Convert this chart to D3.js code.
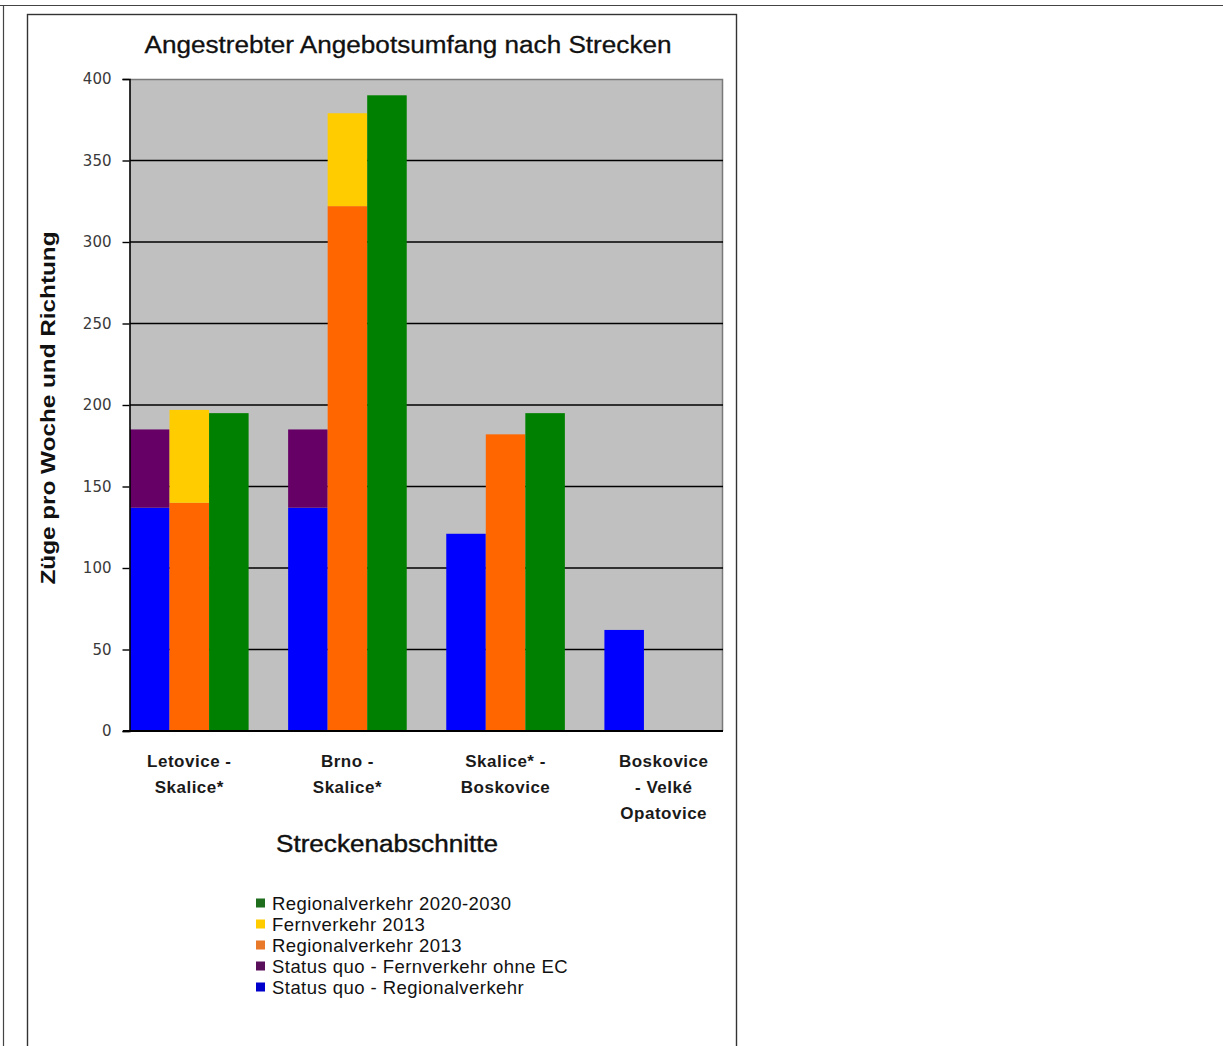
<!DOCTYPE html>
<html>
<head>
<meta charset="utf-8">
<script src="https://cdn.jsdelivr.net/npm/d3@7"></script>
<style>
  html, body { margin: 0; padding: 0; background: #fff; }
  svg { display: block; }
</style>
</head>
<body>
<svg id="chart" width="1223" height="1046"></svg>
<script>
// Route sections (x-axis groups), each drawn as three columns: status quo, 2013, 2020-2030
const sections = ["Letovice - Skalice*", "Brno - Skalice*", "Skalice* - Boskovice", "Boskovice - Velké Opatovice"];
const sectionLabelLines = [
  ["Letovice -", "Skalice*"],
  ["Brno -", "Skalice*"],
  ["Skalice* -", "Boskovice"],
  ["Boskovice", "- Velké", "Opatovice"]
];
const yTicks = [0, 50, 100, 150, 200, 250, 300, 350, 400];

// Trains per week and direction
const statusQuoRegional = [137, 137, 121, 62];
const statusQuoFern = [48, 48, 0, 0];
const regional2013 = [140, 322, 182, 0];
const fern2013 = [57, 57, 0, 0];
const regional2020 = [195, 390, 195, 0];

const seriesKeys = ["sqReg", "sqFern", "reg2013", "fern2013", "reg2020"];
const seriesNames = {
  sqReg: "Status quo - Regionalverkehr",
  sqFern: "Status quo - Fernverkehr ohne EC",
  reg2013: "Regionalverkehr 2013",
  fern2013: "Fernverkehr 2013",
  reg2020: "Regionalverkehr 2020-2030"
};
const seriesColors = {
  sqReg: "#0000ff",
  sqFern: "#660066",
  reg2013: "#ff6600",
  fern2013: "#ffcc00",
  reg2020: "#008000"
};
const legendColors = {
  sqReg: "#0000cc",
  sqFern: "#5a0f5a",
  reg2013: "#e8782a",
  fern2013: "#ffcc00",
  reg2020: "#1e6e1e"
};
const legendOrder = ["reg2020", "fern2013", "reg2013", "sqFern", "sqReg"];

// Slot table: four slots per section (three columns + one gap), last gap dropped
const rows = [];
sections.forEach((s, i) => {
  const base = { sqReg: 0, sqFern: 0, reg2013: 0, fern2013: 0, reg2020: 0 };
  rows.push(Object.assign({}, base, { slot: i * 4, sqReg: statusQuoRegional[i], sqFern: statusQuoFern[i] }));
  rows.push(Object.assign({}, base, { slot: i * 4 + 1, reg2013: regional2013[i], fern2013: fern2013[i] }));
  rows.push(Object.assign({}, base, { slot: i * 4 + 2, reg2020: regional2020[i] }));
  if (i < sections.length - 1) rows.push(Object.assign({}, base, { slot: i * 4 + 3 }));
});

const svg = d3.select("#chart");

// Outer frame lines and the chart box
svg.append("line").attr("x1", 0).attr("x2", 1223).attr("y1", 5.5).attr("y2", 5.5)
  .attr("stroke", "#444").attr("stroke-width", 1.2);
svg.append("line").attr("x1", 3.5).attr("x2", 3.5).attr("y1", 5).attr("y2", 1046)
  .attr("stroke", "#444").attr("stroke-width", 1.2);
svg.append("rect").attr("x", 27.5).attr("y", 14.5).attr("width", 709).attr("height", 1040)
  .attr("fill", "#fff").attr("stroke", "#333").attr("stroke-width", 1.4);

const plot = { left: 130, right: 723, top: 79, bottom: 731 };

const x = d3.scaleBand()
  .domain(d3.range(15))
  .range([plot.left, plot.right])
  .padding(0);

const y = d3.scaleLinear()
  .domain([0, 400])
  .range([plot.bottom, plot.top]);

// Plot background
svg.append("rect")
  .attr("x", plot.left).attr("y", plot.top)
  .attr("width", plot.right - plot.left).attr("height", plot.bottom - plot.top)
  .attr("fill", "#c0c0c0");
// top and right edges of the plot area
svg.append("path")
  .attr("d", `M${plot.left},${plot.top + 0.5}H${plot.right - 0.5}V${plot.bottom}`)
  .attr("fill", "none").attr("stroke", "#7a7a7a").attr("stroke-width", 1.5);

// Horizontal gridlines
svg.append("g").selectAll("line")
  .data(yTicks.filter(t => t > 0 && t < 400))
  .join("line")
  .attr("x1", plot.left).attr("x2", plot.right)
  .attr("y1", d => y(d)).attr("y2", d => y(d))
  .attr("stroke", "#000").attr("stroke-width", 1.6);

// Stacked columns
const stacked = d3.stack().keys(seriesKeys)(rows);
svg.append("g").selectAll("g")
  .data(stacked)
  .join("g")
  .attr("fill", d => seriesColors[d.key])
  .selectAll("rect")
  .data(d => d.filter(p => p[1] - p[0] > 0))
  .join("rect")
  .attr("x", d => x(d.data.slot))
  .attr("width", x.bandwidth())
  .attr("y", d => y(d[1]))
  .attr("height", d => y(d[0]) - y(d[1]));

// Y axis
const yAxis = d3.axisLeft(y).tickValues(yTicks).tickSize(7).tickPadding(11).tickFormat(d3.format("d"));
const yg = svg.append("g").attr("transform", `translate(${plot.left - 0.5},0)`).call(yAxis);
yg.select(".domain").attr("stroke", "#000").attr("stroke-width", 1.6);
yg.selectAll(".tick line").attr("stroke", "#000").attr("stroke-width", 1.4);
yg.selectAll(".tick text")
  .attr("font-family", "'DejaVu Sans', sans-serif")
  .attr("font-size", 15)
  .attr("fill", "#3a3a3a");

// X axis baseline
const xAxis = d3.axisBottom(x).tickSize(0).tickFormat("");
const xg = svg.append("g").attr("transform", `translate(0,${plot.bottom})`).call(xAxis);
xg.select(".domain").attr("stroke", "#000").attr("stroke-width", 1.8)
  .attr("d", `M${plot.left - 7},0H${plot.right}`);

// Section labels centred under the middle column of each group
const labelG = svg.append("g")
  .attr("font-family", "'Liberation Sans', Arial, sans-serif")
  .attr("font-weight", "bold")
  .attr("font-size", 17)
  .attr("letter-spacing", 0.5)
  .attr("fill", "#1a1a1a")
  .attr("text-anchor", "middle");
sectionLabelLines.forEach((lines, i) => {
  const cx = x(i * 4 + 1) + x.bandwidth() / 2;
  lines.forEach((ln, j) => {
    labelG.append("text")
      .attr("x", cx)
      .attr("y", 767 + j * 26)
      .text(ln);
  });
});

// Title
svg.append("text")
  .attr("x", 408).attr("y", 53)
  .attr("text-anchor", "middle")
  .attr("font-family", "'Liberation Sans', Arial, sans-serif")
  .attr("font-size", 23)
  .attr("stroke", "#111").attr("stroke-width", 0.3)
  .attr("textLength", 527).attr("lengthAdjust", "spacingAndGlyphs")
  .attr("fill", "#111")
  .text("Angestrebter Angebotsumfang nach Strecken");

// Y axis title
svg.append("text")
  .attr("transform", `translate(55,408) rotate(-90)`)
  .attr("text-anchor", "middle")
  .attr("font-family", "'Liberation Sans', Arial, sans-serif")
  .attr("font-weight", "bold")
  .attr("font-size", 20.5)
  .attr("textLength", 353).attr("lengthAdjust", "spacingAndGlyphs")
  .attr("fill", "#111")
  .text("Züge pro Woche und Richtung");

// X axis title
svg.append("text")
  .attr("x", 387).attr("y", 852)
  .attr("text-anchor", "middle")
  .attr("font-family", "'Liberation Sans', Arial, sans-serif")
  .attr("font-size", 23)
  .attr("stroke", "#111").attr("stroke-width", 0.4)
  .attr("textLength", 222).attr("lengthAdjust", "spacingAndGlyphs")
  .attr("fill", "#111")
  .text("Streckenabschnitte");

// Legend
const legend = svg.append("g")
  .attr("font-family", "'Liberation Sans', Arial, sans-serif")
  .attr("font-size", 18.5)
  .attr("letter-spacing", 0.45)
  .attr("fill", "#111");
legendOrder.forEach((k, i) => {
  const cy = 903 + i * 21;
  legend.append("rect")
    .attr("x", 256).attr("y", cy - 4.5)
    .attr("width", 9).attr("height", 9)
    .attr("fill", legendColors[k]);
  legend.append("text")
    .attr("x", 272).attr("y", cy + 6.5)
    .text(seriesNames[k]);
});
</script>
</body>
</html>
